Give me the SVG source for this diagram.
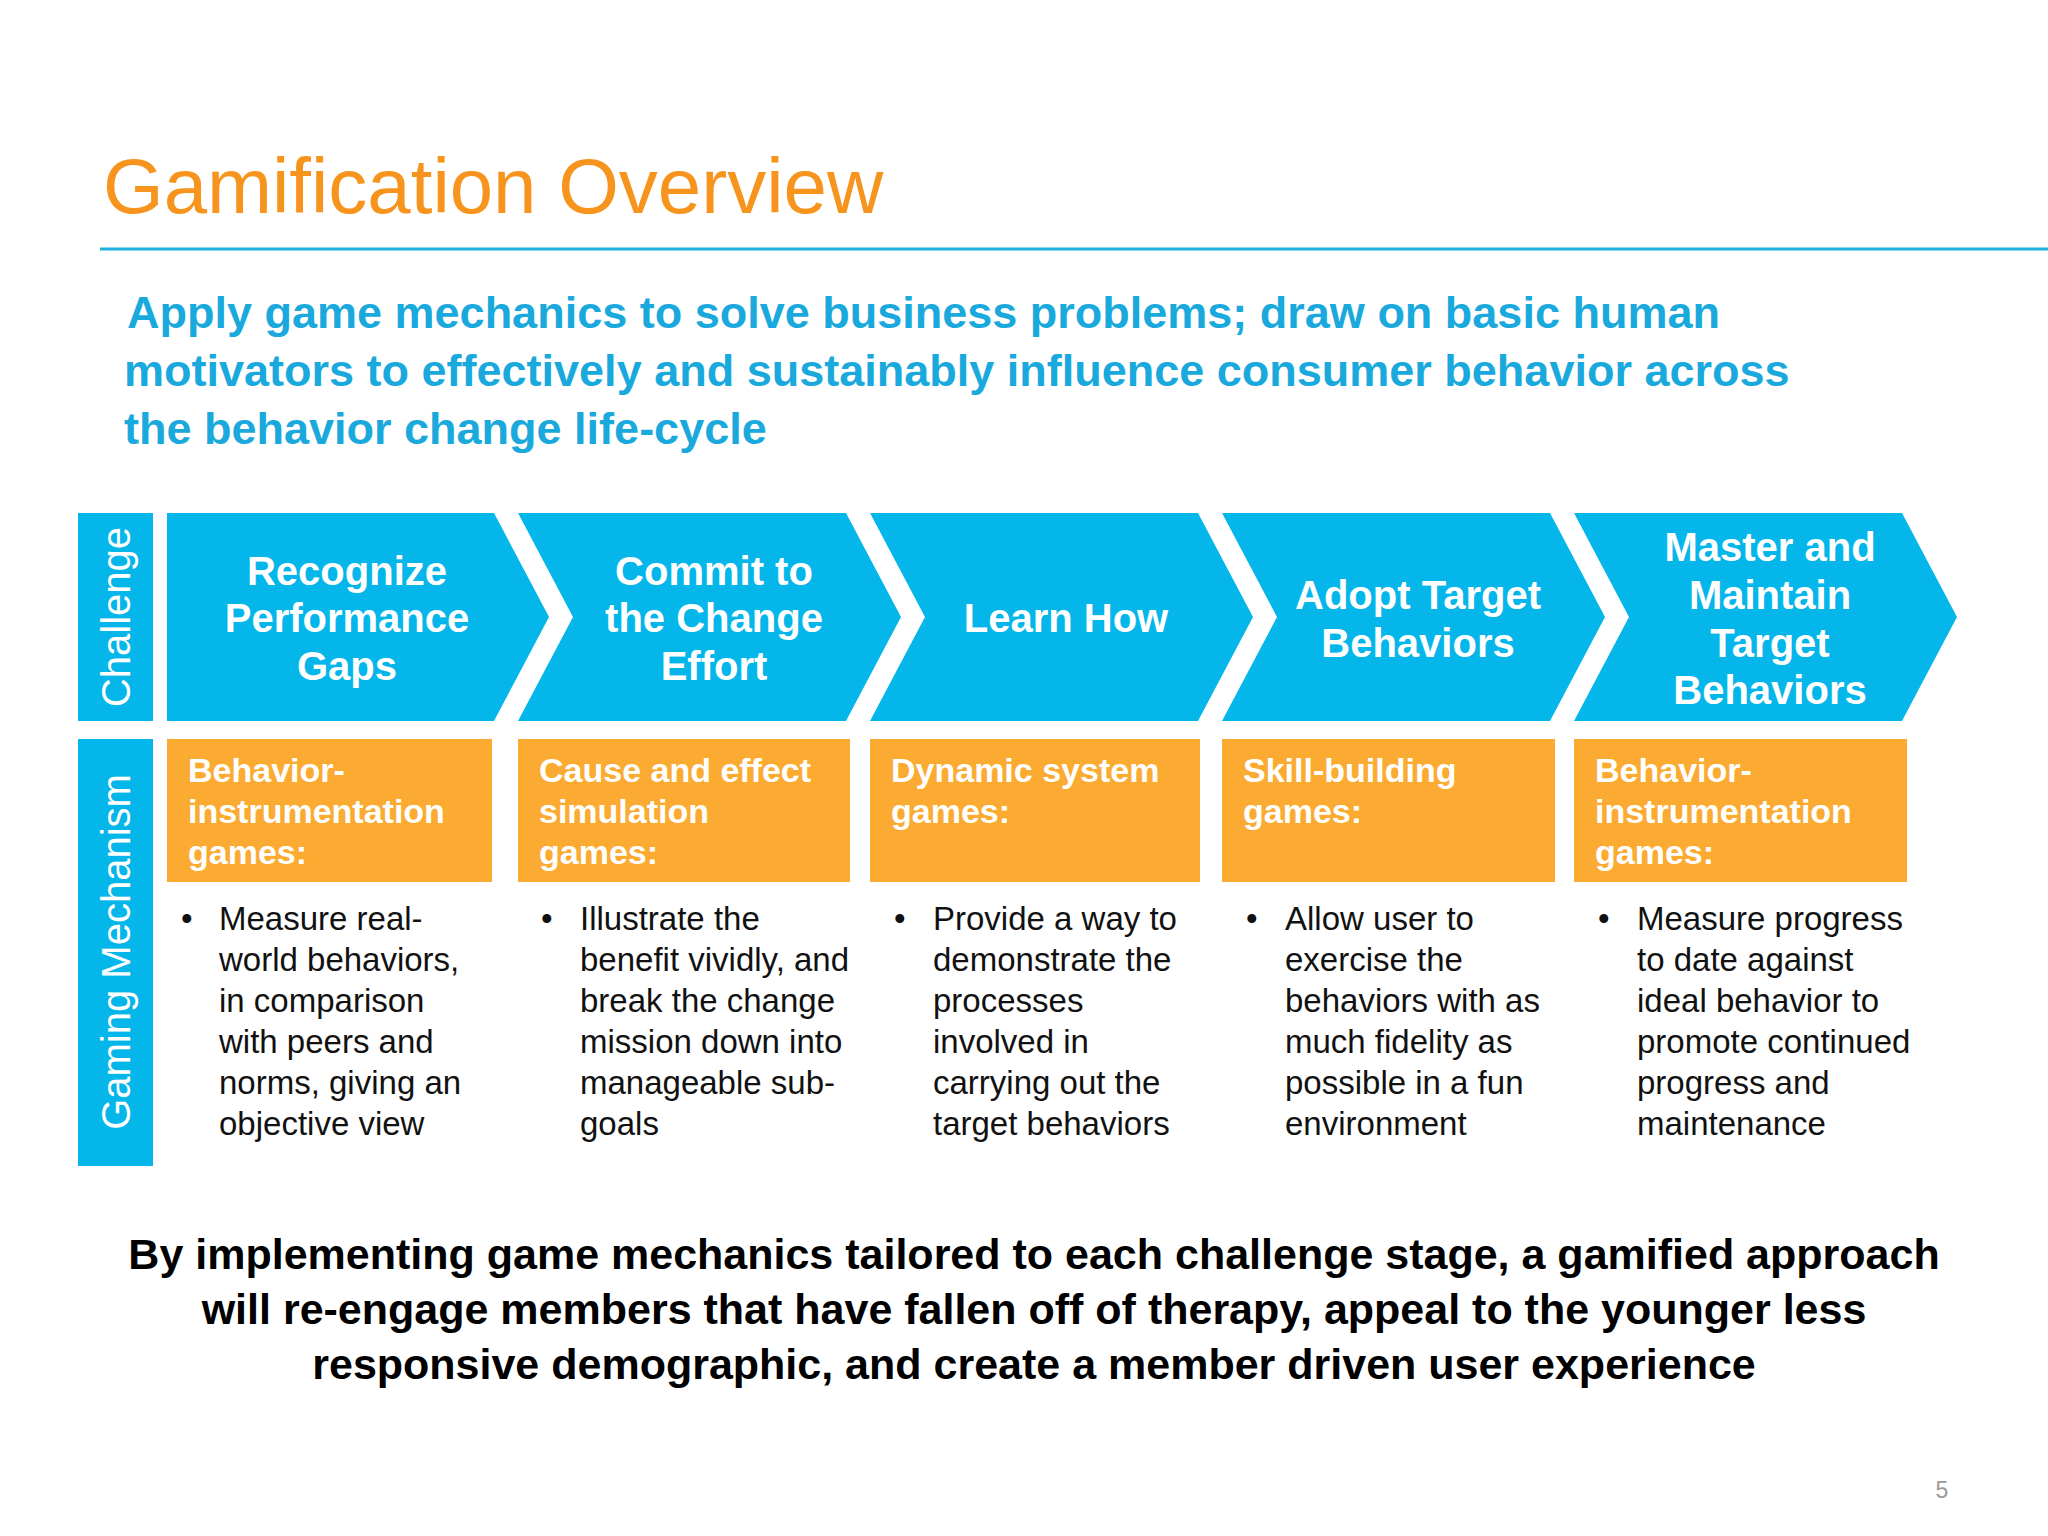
<svg xmlns="http://www.w3.org/2000/svg" width="2048" height="1536" viewBox="0 0 2048 1536">
<style>
.bl{fill:#05b6ea}.or{fill:#fbab31}
.ch{font-family:"Liberation Sans",Arial,sans-serif;font-weight:bold;font-size:40px;fill:#fff;text-anchor:middle}
.ol{font-family:"Liberation Sans",Arial,sans-serif;font-weight:bold;font-size:34px;fill:#fff}
.bt{font-family:"Liberation Sans",Arial,sans-serif;font-size:33px;fill:#111}
.vl{font-family:"Liberation Sans",Arial,sans-serif;font-size:40px;fill:#fff;text-anchor:middle}
</style>
<rect width="2048" height="1536" fill="#fff"/>
<text x="103" y="213" font-family="Liberation Sans,Arial,sans-serif" font-size="78" fill="#f7941d">Gamification Overview</text>
<line x1="100" y1="249" x2="2048" y2="249" stroke="#1fb0e0" stroke-width="3"/>
<g font-family="Liberation Sans,Arial,sans-serif" font-weight="bold" font-size="45" fill="#1aa9dc">
<text x="127" y="328">Apply game mechanics to solve business problems; draw on basic human</text>
<text x="124" y="386">motivators to effectively and sustainably influence consumer behavior across</text>
<text x="124" y="444">the behavior change life-cycle</text>
</g>
<g id="challenge"><rect class="bl" x="78" y="513" width="75" height="208"/><text class="vl" transform="translate(130,617) rotate(-90)">Challenge</text></g>
<g id="mechanism"><rect class="bl" x="78" y="739" width="75" height="427"/><text class="vl" transform="translate(130,952) rotate(-90)">Gaming Mechanism</text></g>
<g id="c1"><polygon class="bl" points="167,513 494,513 549,617 494,721 167,721"/>
<text class="ch"><tspan x="347" y="585">Recognize</tspan><tspan x="347" y="632">Performance</tspan><tspan x="347" y="680">Gaps</tspan></text></g>
<g id="c2"><polygon class="bl" points="518,513 846,513 901,617 846,721 518,721 573,617"/>
<text class="ch"><tspan x="714" y="585">Commit to</tspan><tspan x="714" y="632">the Change</tspan><tspan x="714" y="680">Effort</tspan></text></g>
<g id="c3"><polygon class="bl" points="870,513 1198,513 1253,617 1198,721 870,721 925,617"/>
<text class="ch"><tspan x="1066" y="632">Learn How</tspan></text></g>
<g id="c4"><polygon class="bl" points="1222,513 1550,513 1605,617 1550,721 1222,721 1277,617"/>
<text class="ch"><tspan x="1418" y="609">Adopt Target</tspan><tspan x="1418" y="657">Behaviors</tspan></text></g>
<g id="c5"><polygon class="bl" points="1574,513 1902,513 1957,617 1902,721 1574,721 1629,617"/>
<text class="ch"><tspan x="1770" y="561">Master and</tspan><tspan x="1770" y="609">Maintain</tspan><tspan x="1770" y="657">Target</tspan><tspan x="1770" y="704">Behaviors</tspan></text></g>
<g id="m1"><rect class="or" x="167" y="739" width="325" height="143"/>
<text class="ol"><tspan x="188" y="782">Behavior-</tspan><tspan x="188" y="823">instrumentation</tspan><tspan x="188" y="864">games:</tspan></text>
<text class="bt"><tspan x="181" y="930">•</tspan><tspan x="219" y="930">Measure real-</tspan><tspan x="219" y="971">world behaviors,</tspan><tspan x="219" y="1012">in comparison</tspan><tspan x="219" y="1053">with peers and</tspan><tspan x="219" y="1094">norms, giving an</tspan><tspan x="219" y="1135">objective view</tspan></text></g>
<g id="m2"><rect class="or" x="518" y="739" width="332" height="143"/>
<text class="ol"><tspan x="539" y="782">Cause and effect</tspan><tspan x="539" y="823">simulation</tspan><tspan x="539" y="864">games:</tspan></text>
<text class="bt"><tspan x="541" y="930">•</tspan><tspan x="580" y="930">Illustrate the</tspan><tspan x="580" y="971">benefit vividly, and</tspan><tspan x="580" y="1012">break the change</tspan><tspan x="580" y="1053">mission down into</tspan><tspan x="580" y="1094">manageable sub-</tspan><tspan x="580" y="1135">goals</tspan></text></g>
<g id="m3"><rect class="or" x="870" y="739" width="330" height="143"/>
<text class="ol"><tspan x="891" y="782">Dynamic system</tspan><tspan x="891" y="823">games:</tspan></text>
<text class="bt"><tspan x="894" y="930">•</tspan><tspan x="933" y="930">Provide a way to</tspan><tspan x="933" y="971">demonstrate the</tspan><tspan x="933" y="1012">processes</tspan><tspan x="933" y="1053">involved in</tspan><tspan x="933" y="1094">carrying out the</tspan><tspan x="933" y="1135">target behaviors</tspan></text></g>
<g id="m4"><rect class="or" x="1222" y="739" width="333" height="143"/>
<text class="ol"><tspan x="1243" y="782">Skill-building</tspan><tspan x="1243" y="823">games:</tspan></text>
<text class="bt"><tspan x="1246" y="930">•</tspan><tspan x="1285" y="930">Allow user to</tspan><tspan x="1285" y="971">exercise the</tspan><tspan x="1285" y="1012">behaviors with as</tspan><tspan x="1285" y="1053">much fidelity as</tspan><tspan x="1285" y="1094">possible in a fun</tspan><tspan x="1285" y="1135">environment</tspan></text></g>
<g id="m5"><rect class="or" x="1574" y="739" width="333" height="143"/>
<text class="ol"><tspan x="1595" y="782">Behavior-</tspan><tspan x="1595" y="823">instrumentation</tspan><tspan x="1595" y="864">games:</tspan></text>
<text class="bt"><tspan x="1598" y="930">•</tspan><tspan x="1637" y="930">Measure progress</tspan><tspan x="1637" y="971">to date against</tspan><tspan x="1637" y="1012">ideal  behavior to</tspan><tspan x="1637" y="1053">promote continued</tspan><tspan x="1637" y="1094">progress and</tspan><tspan x="1637" y="1135">maintenance</tspan></text></g>
<g id="connectors"/>
<g font-family="Liberation Sans,Arial,sans-serif" font-weight="bold" font-size="43" fill="#000" text-anchor="middle">
<text x="1034" y="1269">By implementing game mechanics tailored to each challenge stage, a gamified approach</text>
<text x="1034" y="1324">will re-engage members that have fallen off of therapy, appeal to the younger less</text>
<text x="1034" y="1379">responsive demographic, and create a member driven user experience</text>
</g>
<text x="1942" y="1498" font-family="Liberation Sans,Arial,sans-serif" font-size="23" fill="#999" text-anchor="middle">5</text>
</svg>
